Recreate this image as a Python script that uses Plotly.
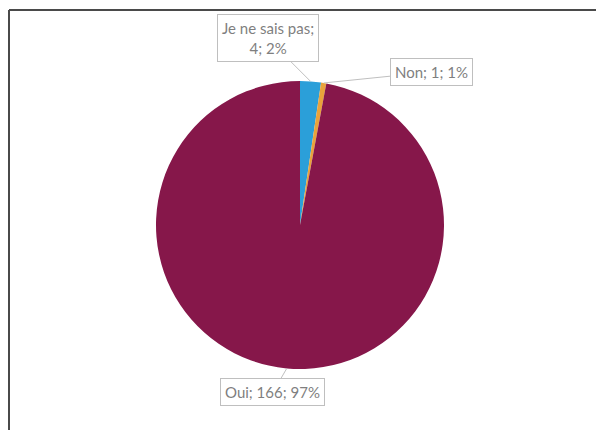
import math
import plotly.graph_objects as go

labels = ["Je ne sais pas", "Non", "Oui"]
values = [4, 1, 166]
colors = ["#2B9FD9", "#E9A23B", "#86174A"]
label_texts = ["Je ne sais pas;<br>4; 2%", "Non; 1; 1%", "Oui; 166; 97%"]

W, H = 596, 430
CX, CY, R = 300, 225, 144  # pie placement in pixels (layout)

fig = go.Figure(go.Pie(
    labels=labels, values=values, sort=False, direction="clockwise", rotation=0,
    marker=dict(colors=colors, line=dict(width=0)),
    textinfo="none", hoverinfo="label+value+percent", showlegend=False,
    domain=dict(x=[(CX - R) / W, (CX + R) / W], y=[1 - (CY + R) / H, 1 - (CY - R) / H]),
))

# label offsets (pixels) relative to slice edge point
offsets = [(-43, -43), (108, -11), (-14, 24)]
total = sum(values)
cum = 0
annotations = []
for v, txt, (ax, ay) in zip(values, label_texts, offsets):
    mid = (cum + v / 2) / total * 2 * math.pi
    cum += v
    px = CX + R * math.sin(mid)
    py = CY - R * math.cos(mid)
    annotations.append(dict(
        x=px / W, y=1 - py / H, xref="paper", yref="paper",
        text=txt, showarrow=True, arrowhead=0, arrowwidth=1, arrowcolor="#BFBFBF",
        ax=ax, ay=ay, bordercolor="#BFBFBF", borderwidth=1, borderpad=4,
        bgcolor="white", font=dict(family="Lato", size=15, color="#7F7F7F"),
        align="center",
    ))

shapes = [
    dict(type="line", xref="paper", yref="paper", x0=9 / W, x1=1, y0=1 - 10 / H, y1=1 - 10 / H,
         line=dict(color="#4A4A4A", width=2)),
    dict(type="line", xref="paper", yref="paper", x0=9 / W, x1=9 / W, y0=0, y1=1 - 10 / H,
         line=dict(color="#4A4A4A", width=2)),
]

fig.update_layout(
    width=W, height=H, margin=dict(l=0, r=0, t=0, b=0),
    paper_bgcolor="white", plot_bgcolor="white",
    annotations=annotations, shapes=shapes,
)
fig.write_html("out.html")
